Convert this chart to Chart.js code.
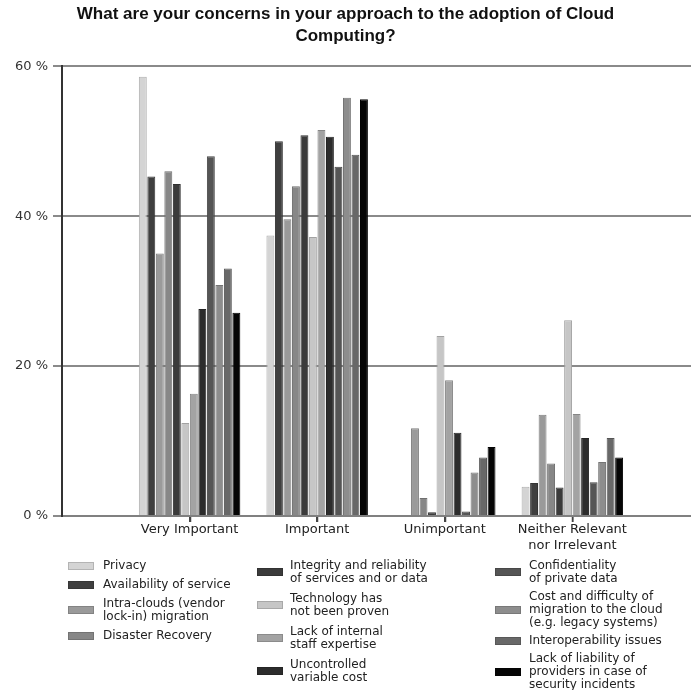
<!DOCTYPE html>
<html><head><meta charset="utf-8">
<script src="https://cdn.jsdelivr.net/npm/chart.js@4.4.0/dist/chart.umd.min.js"></script>
<style>
html,body{margin:0;padding:0;background:#fff;overflow:hidden}
#wrap{position:relative;width:691px;height:690px}
canvas{position:absolute;left:0;top:0}
.col{position:absolute;display:flex;flex-direction:column;font-family:"DejaVu Sans",sans-serif;font-size:12px;line-height:13px;color:#222}
.item{display:flex;align-items:center}
.sw{flex:none;width:26px;height:8px}
</style></head><body>
<div id="wrap"><canvas id="c" width="691" height="690"></canvas><div id="legend"></div></div>
<script>
const categories = ['Very Important', 'Important', 'Unimportant', ['Neither Relevant', 'nor Irrelevant']];
const yTicks = [0, 20, 40, 60];

const privacy          = [58.6, 37.4, 0,    3.9];
const availability     = [45.3, 50.0, 0,    4.4];
const intraClouds      = [35.0, 39.6, 11.7, 13.5];
const disasterRecovery = [46.0, 44.0, 2.4,  7.0];
const integrity        = [44.3, 50.8, 0.5,  3.8];
const technology       = [12.4, 37.2, 24.0, 26.1];
const staffExpertise   = [16.3, 51.5, 18.1, 13.6];
const variableCost     = [27.6, 50.6, 11.1, 10.4];
const confidentiality  = [48.0, 46.6, 0.6,  4.5];
const migrationCost    = [30.8, 55.8, 5.8,  7.2];
const interoperability = [33.0, 48.2, 7.8,  10.4];
const liability        = [27.1, 55.6, 9.2,  7.8];

const seriesNames = [
  ['Privacy'],
  ['Availability of service'],
  ['Intra-clouds (vendor', 'lock-in) migration'],
  ['Disaster Recovery'],
  ['Integrity and reliability', 'of services and or data'],
  ['Technology has', 'not been proven'],
  ['Lack of internal', 'staff expertise'],
  ['Uncontrolled', 'variable cost'],
  ['Confidentiality', 'of private data'],
  ['Cost and difficulty of', 'migration to the cloud', '(e.g. legacy systems)'],
  ['Interoperability issues'],
  ['Lack of liability of', 'providers in case of', 'security incidents']
];
const seriesValues = [privacy, availability, intraClouds, disasterRecovery, integrity, technology,
  staffExpertise, variableCost, confidentiality, migrationCost, interoperability, liability];
const seriesColors = ['#d4d4d4', '#3f3f3f', '#9a9a9a', '#878787', '#3b3b3b', '#c6c6c6',
  '#a3a3a3', '#2c2c2c', '#555555', '#8d8d8d', '#686868', '#050505'];

function darker(hex, f) {
  const n = parseInt(hex.slice(1), 16);
  const r = Math.round(((n >> 16) & 255) * f), g = Math.round(((n >> 8) & 255) * f), b = Math.round((n & 255) * f);
  return 'rgb(' + r + ',' + g + ',' + b + ')';
}

const datasets = seriesValues.map((vals, k) => ({
  label: seriesNames[k].join(' '),
  data: vals.map((v, i) => ({ x: i + 1, y: v })),
  backgroundColor: seriesColors[k],
  borderColor: darker(seriesColors[k], 0.82),
  borderWidth: 1,
  categoryPercentage: 0.8,
  barPercentage: 0.93
}));

// small tick marks below the category axis, placed by the x scale
const xTickMarks = {
  id: 'xTickMarks',
  afterDraw(chart) {
    const s = chart.scales.x, ctx = chart.ctx, y0 = chart.chartArea.bottom;
    ctx.save();
    ctx.strokeStyle = '#444';
    ctx.lineWidth = 1.5;
    s.ticks.forEach(t => {
      const px = Math.round(s.getPixelForValue(t.value)) + 0.5;
      ctx.beginPath();
      ctx.moveTo(px, y0 + 1);
      ctx.lineTo(px, y0 + 6);
      ctx.stroke();
    });
    ctx.restore();
  }
};

new Chart(document.getElementById('c'), {
  type: 'bar',
  data: { datasets },
  plugins: [xTickMarks],
  options: {
    responsive: false,
    animation: false,
    layout: { padding: { left: 0, right: 0, top: 0, bottom: 130 } },
    plugins: {
      legend: { display: false },
      tooltip: { enabled: false },
      title: {
        display: true,
        text: ['What are your concerns in your approach to the adoption of Cloud', 'Computing?'],
        font: { family: 'Liberation Sans', size: 17, weight: 'bold', lineHeight: 1.3 },
        color: '#111',
        padding: { top: 3, bottom: 19 }
      }
    },
    scales: {
      x: {
        type: 'linear',
        offset: false,
        min: 0,
        max: 4.93,
        afterBuildTicks: s => { s.ticks = categories.map((c, i) => ({ value: i + 1 })); },
        afterFit: s => { s.height = 44; },
        ticks: {
          autoSkip: false,
          maxRotation: 0,
          padding: 0,
          color: '#222',
          font: { family: 'DejaVu Sans', size: 13, lineHeight: 1.2 },
          callback: v => categories[Math.round(v) - 1]
        },
        grid: { offset: false, drawOnChartArea: false, drawTicks: true, tickLength: 6, color: '#444', lineWidth: 1.5 },
        border: { display: true, color: '#808080', width: 2 }
      },
      y: {
        min: 0,
        max: 60,
        afterBuildTicks: s => { s.ticks = yTicks.map(v => ({ value: v })); },
        afterFit: s => { s.width = 62; },
        ticks: {
          padding: 5,
          color: '#333',
          font: { family: 'DejaVu Sans', size: 13 },
          callback: v => v + ' %'
        },
        grid: { color: '#8a8a8a', lineWidth: 2, tickLength: 9 },
        border: { display: true, color: '#333', width: 2 }
      }
    }
  }
});

// HTML legend, column-major, 4 items per column
const colX = [68, 257, 495];
const colGap = [6, 7, 5];
const legend = document.getElementById('legend');
for (let c = 0; c < 3; c++) {
  const col = document.createElement('div');
  col.className = 'col';
  col.style.left = colX[c] + 'px';
  col.style.top = '559px';
  col.style.gap = colGap[c] + 'px';
  for (let r = 0; r < 4; r++) {
    const k = c * 4 + r;
    const item = document.createElement('div');
    item.className = 'item';
    const sw = document.createElement('div');
    sw.className = 'sw';
    sw.style.background = seriesColors[k];
    sw.style.border = '1px solid ' + darker(seriesColors[k], 0.85);
    sw.style.boxSizing = 'border-box';
    const tx = document.createElement('div');
    tx.style.marginLeft = (c === 0 ? 9 : (c === 1 ? 7 : 8)) + 'px';
    tx.innerHTML = seriesNames[k].join('<br>');
    item.appendChild(sw);
    item.appendChild(tx);
    col.appendChild(item);
  }
  legend.appendChild(col);
}
</script>
</body></html>
